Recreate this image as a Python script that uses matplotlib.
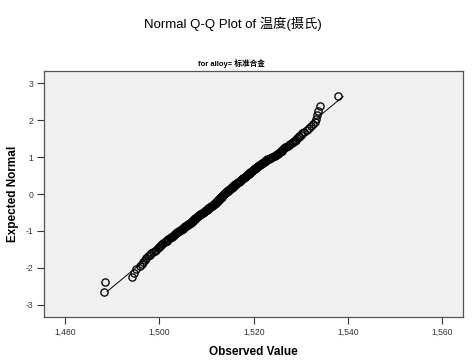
import numpy as np
import matplotlib
matplotlib.use('Agg')
import matplotlib.pyplot as plt
from matplotlib.ticker import FuncFormatter
from statistics import NormalDist

plt.rcParams['font.family'] = ['Liberation Sans', 'Noto Sans CJK SC', 'DejaVu Sans']
plt.rcParams['axes.unicode_minus'] = False

# observed temperatures (sorted)
observed = [
    1488.3, 1488.4, 1494.1, 1494.5, 1495.0, 1495.8, 1496.2, 1496.6, 1496.9, 1497.2,
    1497.6, 1497.9, 1498.3, 1498.6, 1499.0, 1499.3, 1499.6, 1499.9, 1500.1, 1500.4,
    1500.6, 1500.8, 1501.1, 1501.3, 1501.5, 1501.7, 1501.9, 1502.2, 1502.4, 1502.6,
    1502.8, 1503.0, 1503.2, 1503.4, 1503.6, 1503.8, 1504.0, 1504.2, 1504.4, 1504.6,
    1504.7, 1504.9, 1505.1, 1505.2, 1505.4, 1505.5, 1505.7, 1505.8, 1506.0, 1506.1,
    1506.3, 1506.4, 1506.6, 1506.7, 1506.8, 1507.0, 1507.1, 1507.2, 1507.3, 1507.4,
    1507.5, 1507.6, 1507.8, 1507.9, 1508.0, 1508.1, 1508.2, 1508.4, 1508.5, 1508.7,
    1508.8, 1508.9, 1509.1, 1509.2, 1509.4, 1509.5, 1509.6, 1509.7, 1509.8, 1510.0,
    1510.1, 1510.2, 1510.3, 1510.4, 1510.5, 1510.6, 1510.7, 1510.8, 1511.0, 1511.1,
    1511.2, 1511.3, 1511.4, 1511.5, 1511.6, 1511.7, 1511.8, 1511.9, 1512.0, 1512.1,
    1512.2, 1512.3, 1512.4, 1512.5, 1512.5, 1512.6, 1512.7, 1512.7, 1512.8, 1512.9,
    1513.0, 1513.0, 1513.1, 1513.2, 1513.3, 1513.3, 1513.4, 1513.5, 1513.5, 1513.6,
    1513.7, 1513.8, 1513.9, 1514.0, 1514.1, 1514.2, 1514.3, 1514.4, 1514.5, 1514.6,
    1514.7, 1514.8, 1514.9, 1515.0, 1515.1, 1515.2, 1515.3, 1515.4, 1515.5, 1515.6,
    1515.7, 1515.8, 1515.9, 1516.0, 1516.1, 1516.2, 1516.3, 1516.4, 1516.5, 1516.7,
    1516.8, 1516.9, 1517.0, 1517.1, 1517.2, 1517.3, 1517.4, 1517.5, 1517.6, 1517.7,
    1517.8, 1518.0, 1518.1, 1518.2, 1518.3, 1518.4, 1518.5, 1518.6, 1518.7, 1518.9,
    1519.0, 1519.1, 1519.2, 1519.3, 1519.4, 1519.6, 1519.7, 1519.8, 1519.9, 1520.1,
    1520.2, 1520.3, 1520.5, 1520.6, 1520.7, 1520.9, 1521.0, 1521.2, 1521.3, 1521.5,
    1521.6, 1521.8, 1521.9, 1522.1, 1522.2, 1522.4, 1522.6, 1522.7, 1522.9, 1523.2,
    1523.4, 1523.7, 1523.9, 1524.2, 1524.5, 1524.8, 1525.0, 1525.1, 1525.3, 1525.5,
    1525.7, 1525.9, 1526.1, 1526.3, 1526.5, 1526.7, 1526.9, 1527.2, 1527.5, 1527.8,
    1528.1, 1528.4, 1528.7, 1529.0, 1529.2, 1529.5, 1529.7, 1530.0, 1530.3, 1530.6,
    1531.2, 1531.8, 1532.2, 1532.6, 1533.0, 1533.2, 1533.4, 1533.7, 1534.1, 1537.9,
]

x_ticks = [1480, 1500, 1520, 1540, 1560]
y_ticks = [-3, -2, -1, 0, 1, 2, 3]

obs = np.sort(np.array(observed))
n = len(obs)
# expected normal scores from ranks, i/(n+1)
nd = NormalDist()
expected = np.array([nd.inv_cdf(i / (n + 1.0)) for i in range(1, n + 1)])

mean = obs.mean()
sd = obs.std(ddof=1)

fig = plt.figure(figsize=(4.76, 3.6), dpi=100)
ax = fig.add_axes([0.0924, 0.1194, 0.8803, 0.6834])
ax.set_facecolor('#f0f0f0')

line_z = np.array([expected.min(), expected.max()])
ax.plot(mean + sd * line_z, line_z, color='black', lw=0.7, zorder=2)
ax.plot(obs, expected, 'o', mfc='none', mec='black', ms=5.2, mew=0.95, zorder=3)

ax.set_xlim(1475.5, 1564.4)
ax.set_ylim(-3.33, 3.33)
ax.set_xticks(x_ticks)
ax.set_yticks(y_ticks)
ax.xaxis.set_major_formatter(FuncFormatter(lambda v, p: f"{v:,.0f}"))
ax.yaxis.set_major_formatter(FuncFormatter(lambda v, p: f"{v:.0f}"))
ax.tick_params(direction='out', length=5, width=0.8, color='#333333',
               labelsize=6.2, labelcolor='#333333', pad=2.5)
for s in ax.spines.values():
    s.set_color('#555555')
    s.set_linewidth(0.9)

ax.set_xlabel('Observed Value', fontsize=8.5, fontweight='bold', labelpad=7)
ax.set_ylabel('Expected Normal', fontsize=8.5, fontweight='bold', labelpad=5)

fig.text(0.49, 0.933, 'Normal Q-Q Plot of 温度(摄氏)', ha='center', va='center',
         fontsize=9.5)
fig.text(0.487, 0.825, 'for alloy= 标准合金', ha='center', va='center',
         fontsize=5.5, fontweight='bold')

fig.savefig('out.png', dpi=100)
